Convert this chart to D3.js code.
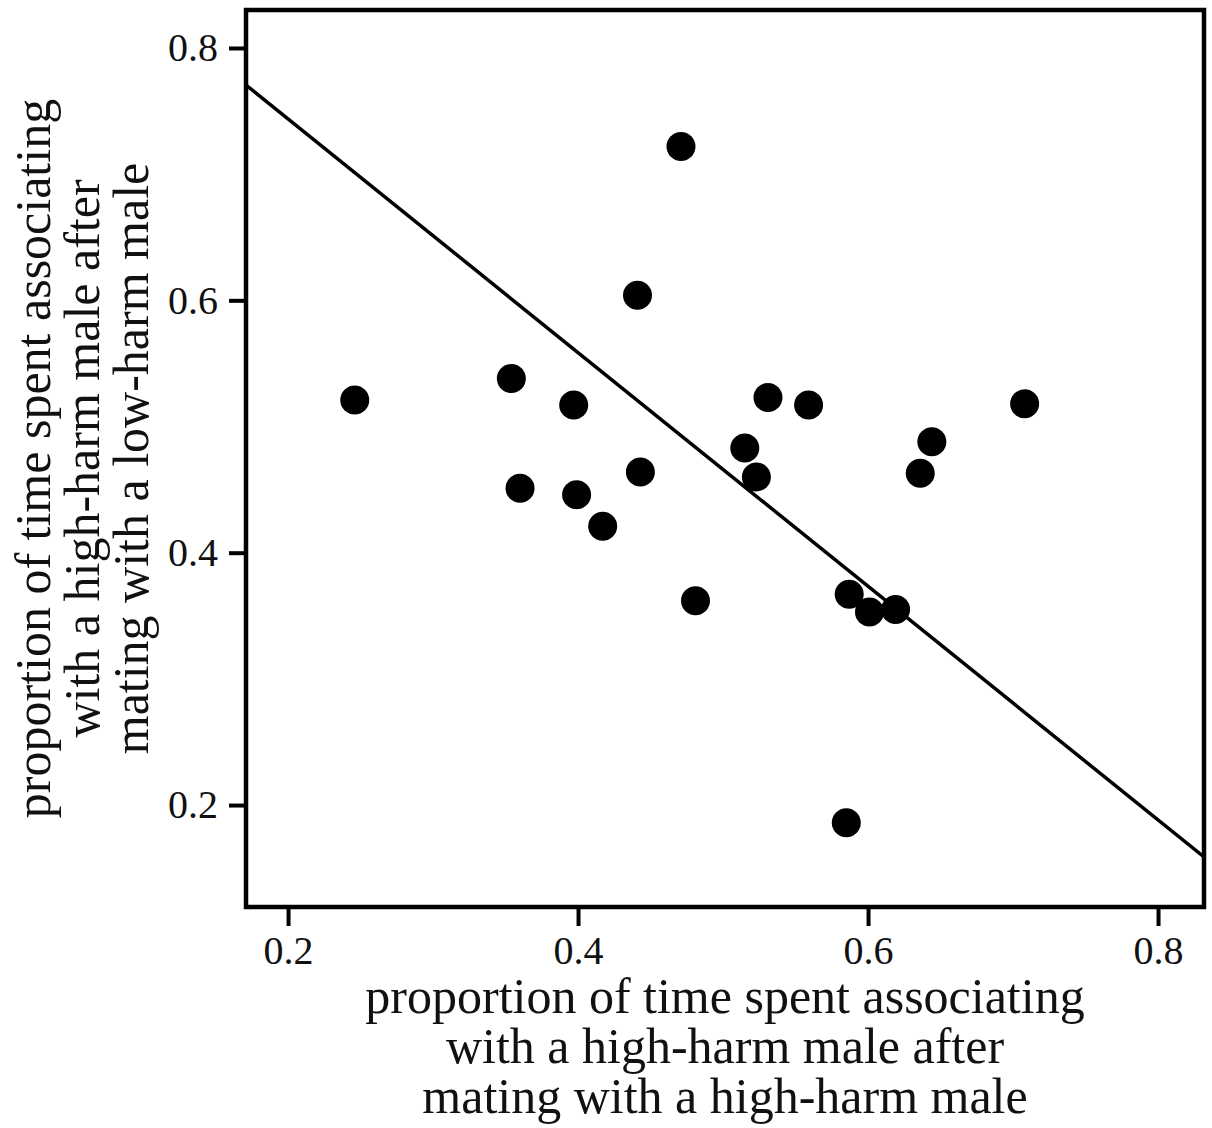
<!DOCTYPE html>
<html>
  <head>
    <meta charset="UTF-8" />
    <script src="https://cdnjs.cloudflare.com/ajax/libs/d3/7.8.5/d3.min.js"></script>
    <style>
      body { margin: 0; background: #fff; }
      text { font-family: "Liberation Serif", "Times New Roman", serif; fill: #111; }
      .tick line { stroke: #000; stroke-width: 4; }
      .tick text { font-size: 40px; }
      path.domain { display: none; }
    </style>
  </head>
  <body>
    <svg id="chart" width="1212" height="1128"></svg>
    <script>
      // x: after mating with a high-harm male, y: after mating with a low-harm male
      let highHarmX = [0.246, 0.354, 0.397, 0.360, 0.399, 0.417, 0.441, 0.443, 0.471, 0.481,
        0.515, 0.523, 0.531, 0.559, 0.587, 0.601, 0.619, 0.585, 0.636, 0.644, 0.708];
      let lowHarmY = [0.521, 0.538, 0.517, 0.451, 0.446, 0.421, 0.604, 0.464, 0.722, 0.362,
        0.483, 0.460, 0.523, 0.517, 0.367, 0.353, 0.355, 0.186, 0.463, 0.488, 0.518];

      // fitted line, y = intercept + slope * x
      let fitIntercept = 0.929;
      let fitSlope = -0.926;

      let xTicks = [0.2, 0.4, 0.6, 0.8];
      let yTicks = [0.2, 0.4, 0.6, 0.8];

      let xTitle = ["proportion of time spent associating", "with a high-harm male after", "mating with a high-harm male"];
      let yTitle = ["proportion of time spent associating", "with a high-harm male after", "mating with a low-harm male"];

      let plotL = 246, plotR = 1204, plotT = 10, plotB = 907;

      let xScale = d3.scaleLinear().domain([0.171, 0.8317]).range([plotL, plotR]);
      let yScale = d3.scaleLinear().domain([0.1192, 0.8301]).range([plotB, plotT]);

      let svg = d3.select("#chart");

      svg.append("defs").append("clipPath").attr("id", "plotClip")
        .append("rect")
        .attr("x", plotL).attr("y", plotT)
        .attr("width", plotR - plotL).attr("height", plotB - plotT);

      svg.append("g")
        .attr("transform", `translate(0,${plotB})`)
        .call(d3.axisBottom(xScale).tickValues(xTicks).tickFormat(d3.format(".1f")).tickSize(19).tickPadding(10));

      svg.append("g")
        .attr("transform", `translate(${plotL},0)`)
        .call(d3.axisLeft(yScale).tickValues(yTicks).tickFormat(d3.format(".1f")).tickSize(17).tickPadding(11));

      let xDom = xScale.domain();
      svg.append("line")
        .attr("clip-path", "url(#plotClip)")
        .attr("x1", xScale(xDom[0]))
        .attr("y1", yScale(fitIntercept + fitSlope * xDom[0]))
        .attr("x2", xScale(xDom[1]))
        .attr("y2", yScale(fitIntercept + fitSlope * xDom[1]))
        .attr("stroke", "#000")
        .attr("stroke-width", 3.5);

      svg.append("g")
        .selectAll("circle")
        .data(highHarmX)
        .enter()
        .append("circle")
        .attr("cx", d => xScale(d))
        .attr("cy", (d, i) => yScale(lowHarmY[i]))
        .attr("r", 14.5)
        .attr("fill", "#000");

      svg.append("rect")
        .attr("x", plotL).attr("y", plotT)
        .attr("width", plotR - plotL).attr("height", plotB - plotT)
        .attr("fill", "none")
        .attr("stroke", "#000")
        .attr("stroke-width", 4.5);

      let midX = (plotL + plotR) / 2;
      svg.append("g")
        .selectAll("text")
        .data(xTitle)
        .enter()
        .append("text")
        .attr("x", midX)
        .attr("y", (d, i) => 1013 + i * 50)
        .attr("text-anchor", "middle")
        .style("font-size", "50px")
        .text(d => d);

      let midY = (plotT + plotB) / 2;
      svg.append("g")
        .selectAll("text")
        .data(yTitle)
        .enter()
        .append("text")
        .attr("transform", (d, i) => `translate(${50 + i * 49},${midY}) rotate(-90)`)
        .attr("text-anchor", "middle")
        .style("font-size", "50px")
        .text(d => d);
    </script>
  </body>
</html>
